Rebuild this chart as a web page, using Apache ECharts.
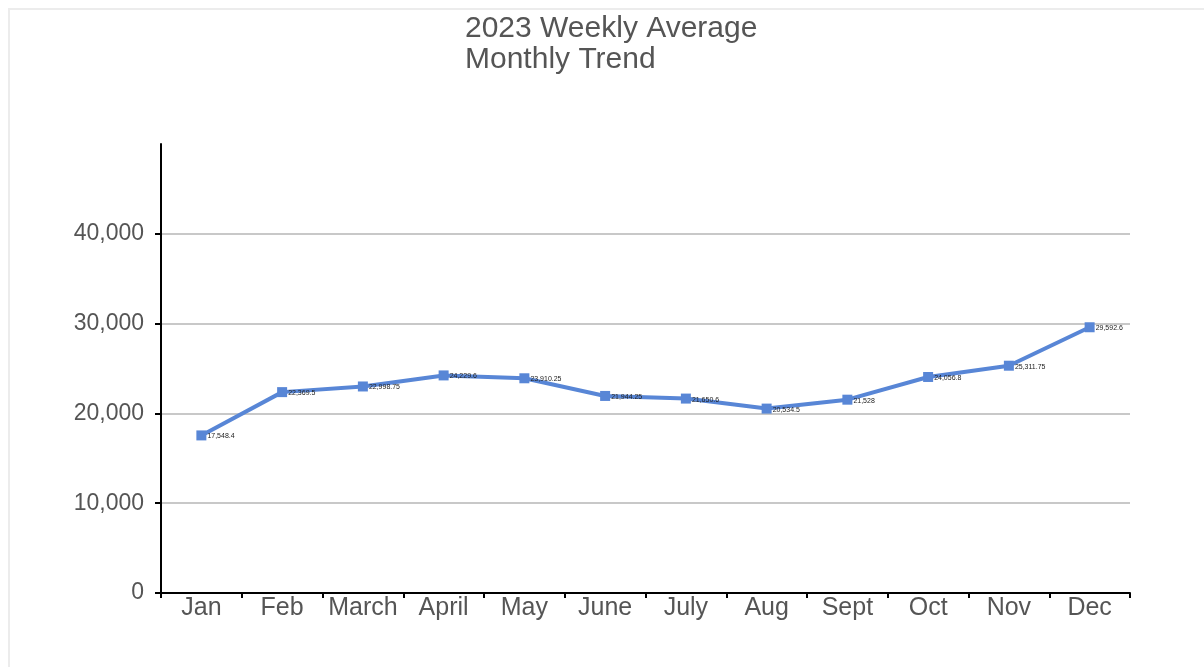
<!DOCTYPE html>
<html>
<head>
<meta charset="utf-8">
<script src="https://cdn.jsdelivr.net/npm/echarts@6/dist/echarts.min.js"></script>
<style>
  html, body { margin: 0; padding: 0; background: #fff; }
  #frame { position: absolute; left: 8px; top: 8px; width: 1300px; height: 800px; border: 2px solid #ececec; box-sizing: border-box; }
  #chart { position: absolute; left: 0; top: 0; width: 1204px; height: 667px; }
</style>
</head>
<body>
<div id="frame"></div>
<div id="chart"></div>
<script>
// chart data
var months = ['Jan', 'Feb', 'March', 'April', 'May', 'June', 'July', 'Aug', 'Sept', 'Oct', 'Nov', 'Dec'];
var weeklyAvg = [17548.4, 22369.5, 22998.75, 24229.6, 23910.25, 21944.25, 21650.6, 20534.5, 21528, 24056.8, 25311.75, 29592.6];

var fontFam = '"Liberation Sans", Arial, sans-serif';
var mychart = echarts.init(document.getElementById('chart'));

mychart.setOption({
  animation: false,
  title: {
    text: '2023 Weekly Average\nMonthly Trend',
    left: 460,
    top: 8,
    textStyle: { color: '#555', fontSize: 30, fontWeight: 'normal', fontFamily: fontFam, lineHeight: 31 }
  },
  grid: { left: 161, right: 74, top: 144, bottom: 74 },
  xAxis: {
    type: 'category',
    data: months,
    boundaryGap: true,
    axisLine: { lineStyle: { color: '#000', width: 2 } },
    axisTick: { show: true, length: 5, lineStyle: { color: '#000', width: 2 } },
    axisLabel: { color: '#555', fontSize: 25, fontFamily: fontFam, margin: 3, interval: 0 },
    splitLine: { show: false }
  },
  yAxis: {
    type: 'value',
    min: 0,
    max: 50000,
    interval: 10000,
    axisLine: { show: true, lineStyle: { color: '#000', width: 2 } },
    axisTick: { show: true, length: 6, lineStyle: { color: '#000', width: 2 } },
    axisLabel: {
      color: '#555', fontSize: 23, fontFamily: fontFam, margin: 17,
      showMaxLabel: false,
      formatter: function (v) { return v.toLocaleString('en-US'); }
    },
    splitLine: {
      show: true,
      lineStyle: { color: ['#c8c8c8', '#c8c8c8', '#c8c8c8', '#c8c8c8', '#c8c8c8', 'rgba(0,0,0,0)'], width: 2 }
    }
  },
  series: [{
    name: 'Weekly Average',
    type: 'line',
    data: weeklyAvg,
    color: '#5886d6',
    lineStyle: { width: 4, color: '#5886d6' },
    symbol: 'rect',
    symbolSize: 10,
    itemStyle: { color: '#5886d6' },
    label: {
      show: true,
      position: 'right',
      distance: 1,
      offset: [0, 1],
      fontSize: 7,
      color: '#222',
      fontFamily: fontFam,
      formatter: function (p) { return p.value.toLocaleString('en-US', { maximumFractionDigits: 2 }); }
    }
  }]
});
</script>
</body>
</html>
